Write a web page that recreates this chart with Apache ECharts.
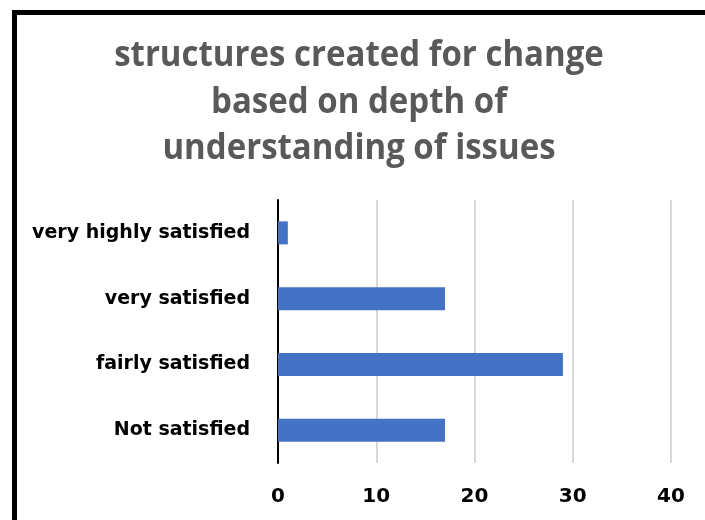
<!DOCTYPE html>
<html>
<head>
<meta charset="utf-8">
<script src="https://cdn.jsdelivr.net/npm/echarts@6/dist/echarts.min.js"></script>
<style>html,body{margin:0;padding:0;background:#fff}#c{width:705px;height:520px}</style>
</head>
<body>
<div id="c"></div>
<script>
const titleText = 'structures created for change\nbased on depth of\nunderstanding of issues';
const categories = ['Not satisfied', 'fairly satisfied', 'very satisfied', 'very highly satisfied'];
const values = [17, 29, 17, 1];
const xTicks = [0, 10, 20, 30, 40];

const chart = echarts.init(document.getElementById('c'));
chart.setOption({
  backgroundColor: '#fff',
  animation: false,
  graphic: [
    { type: 'rect', shape: { x: 12, y: 10, width: 5, height: 510 }, style: { fill: '#000' } },
    { type: 'rect', shape: { x: 12, y: 10, width: 693, height: 5 }, style: { fill: '#000' } },
    { type: 'text', x: 359, y: 33, scaleY: 1.1,
      style: { text: titleText, align: 'center', verticalAlign: 'top',
               font: 'bold 33px "Open Sans"', fill: '#595959', lineHeight: 42 } }
  ],
  grid: { left: 278, right: 34, top: 200, bottom: 57, containLabel: false },
  xAxis: {
    type: 'value', min: xTicks[0], max: xTicks[xTicks.length - 1], interval: 10,
    axisLine: { show: false }, axisTick: { show: false },
    splitLine: { lineStyle: { color: '#d9d9d9', width: 2 } },
    axisLabel: { margin: 24, fontFamily: 'DejaVu Sans', fontWeight: 'bold', fontSize: 20, color: '#000' }
  },
  yAxis: {
    type: 'category', data: categories,
    axisLine: { lineStyle: { color: '#000', width: 2 } }, axisTick: { show: false },
    axisLabel: { margin: 28, fontFamily: 'DejaVu Sans', fontWeight: 'bold', fontSize: 19, color: '#000' }
  },
  series: [{
    type: 'bar', data: values, barWidth: 23,
    itemStyle: { color: '#4472C4' }
  }]
});
</script>
</body>
</html>
